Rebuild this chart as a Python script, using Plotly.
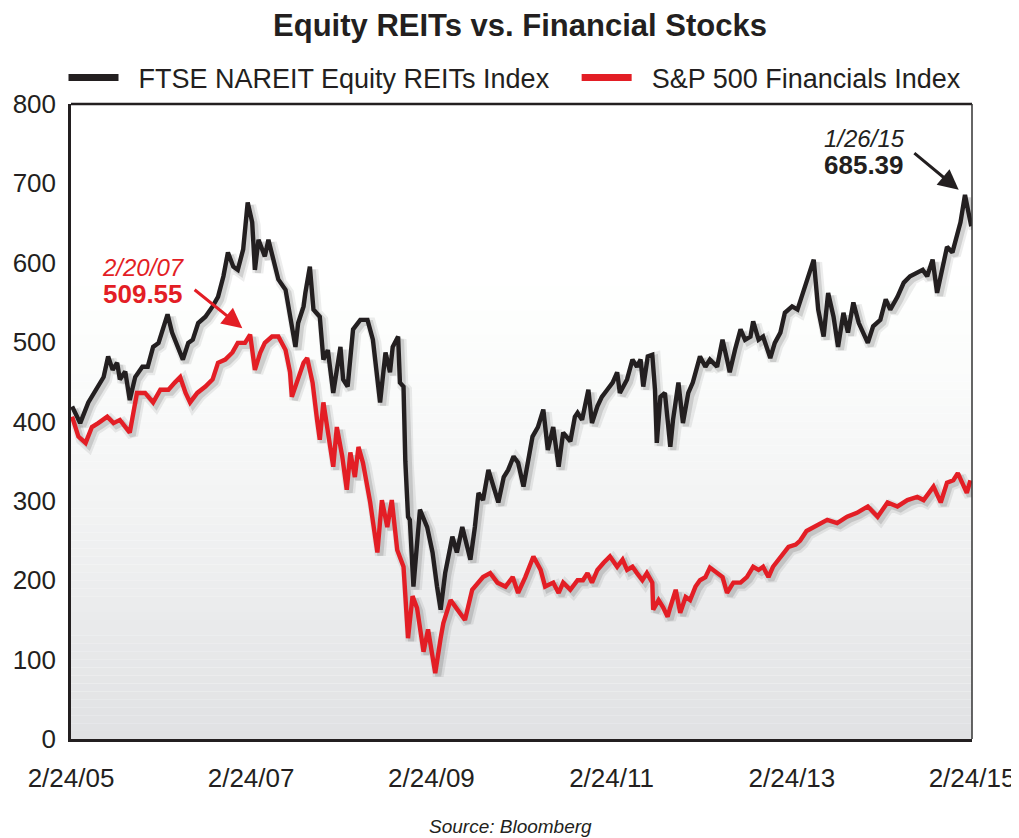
import plotly.graph_objects as go
import pandas as pd

# ---------------- data ----------------
reit_years = [2005.16, 2005.25, 2005.34, 2005.45, 2005.51, 2005.56, 2005.61, 2005.66, 2005.69, 2005.75,
              2005.80, 2005.86, 2005.94, 2006.00, 2006.06, 2006.12, 2006.17, 2006.22, 2006.27, 2006.33,
              2006.39, 2006.45, 2006.50, 2006.56, 2006.64, 2006.72, 2006.78, 2006.84, 2006.89, 2006.95,
              2007.00, 2007.06, 2007.11, 2007.16, 2007.19, 2007.23, 2007.30, 2007.34, 2007.39, 2007.45,
              2007.53, 2007.60, 2007.64, 2007.67, 2007.73, 2007.75, 2007.80, 2007.84, 2007.91, 2007.95,
              2008.00, 2008.06, 2008.14, 2008.17, 2008.22, 2008.28, 2008.36, 2008.44, 2008.50, 2008.58,
              2008.64, 2008.69, 2008.72, 2008.78, 2008.80, 2008.84, 2008.86, 2008.89, 2008.91, 2008.95,
              2009.02, 2009.10, 2009.16, 2009.21, 2009.25, 2009.30, 2009.38, 2009.43, 2009.49, 2009.58,
              2009.63, 2009.67, 2009.72, 2009.78, 2009.83, 2009.89, 2009.95, 2010.00, 2010.06, 2010.11,
              2010.17, 2010.21, 2010.27, 2010.33, 2010.39, 2010.44, 2010.50, 2010.56, 2010.61, 2010.69,
              2010.74, 2010.77, 2010.82, 2010.89, 2010.93, 2010.99, 2011.04, 2011.10, 2011.16, 2011.21,
              2011.24, 2011.32, 2011.38, 2011.43, 2011.47, 2011.50, 2011.55, 2011.60, 2011.63, 2011.65,
              2011.69, 2011.74, 2011.80, 2011.83, 2011.89, 2011.94, 2012.00, 2012.05, 2012.13, 2012.19,
              2012.24, 2012.32, 2012.38, 2012.43, 2012.46, 2012.52, 2012.58, 2012.63, 2012.69, 2012.72,
              2012.78, 2012.83, 2012.91, 2012.96, 2013.02, 2013.07, 2013.15, 2013.21, 2013.28, 2013.33,
              2013.39, 2013.44, 2013.50, 2013.55, 2013.61, 2013.66, 2013.72, 2013.77, 2013.83, 2013.89,
              2013.99, 2014.05, 2014.13, 2014.19, 2014.24, 2014.32, 2014.39, 2014.46, 2014.54, 2014.60,
              2014.65, 2014.71, 2014.76, 2014.82, 2014.87, 2014.93, 2014.98, 2015.02, 2015.07, 2015.11,
              2015.14]
reit_values = [419, 398, 424, 444, 456, 482, 465, 474, 453, 463,
               427, 456, 469, 469, 494, 499, 516, 535, 512, 494,
               478, 499, 503, 524, 532, 545, 557, 583, 613, 595,
               591, 617, 676, 651, 591, 629, 608, 629, 608, 579,
               566, 516, 494, 524, 545, 562, 595, 541, 532, 478,
               490, 436, 494, 453, 444, 516, 528, 528, 503, 424,
               487, 462, 494, 507, 449, 444, 350, 280, 276, 192,
               289, 267, 235, 192, 163, 209, 255, 235, 267, 226,
               267, 310, 301, 339, 318, 298, 330, 339, 356, 348,
               318, 343, 381, 393, 415, 364, 393, 343, 386, 375,
               406, 411, 402, 440, 398, 419, 431, 440, 449, 462,
               436, 453, 478, 469, 478, 444, 482, 484, 440, 373,
               431, 436, 368, 402, 449, 398, 436, 449, 482, 469,
               478, 469, 503, 478, 462, 491, 516, 503, 507, 526,
               503, 507, 480, 499, 512, 537, 545, 541, 566, 583,
               604, 541, 507, 562, 532, 494, 537, 512, 550, 524,
               499, 520, 528, 554, 541, 557, 575, 583, 588, 591,
               583, 604, 562, 591, 620, 613, 633, 651, 685.39, 663,
               646]

fin_years = [2005.16, 2005.23, 2005.31, 2005.38, 2005.45, 2005.55, 2005.62, 2005.69, 2005.80, 2005.88,
             2005.97, 2006.06, 2006.14, 2006.23, 2006.30, 2006.36, 2006.42, 2006.47, 2006.55, 2006.64,
             2006.72, 2006.78, 2006.86, 2006.94, 2007.00, 2007.08, 2007.137, 2007.19, 2007.25, 2007.30,
             2007.38, 2007.45, 2007.53, 2007.58, 2007.60, 2007.67, 2007.73, 2007.77, 2007.83, 2007.88,
             2007.91, 2007.95, 2008.00, 2008.06, 2008.10, 2008.16, 2008.21, 2008.25, 2008.30, 2008.34,
             2008.39, 2008.47, 2008.55, 2008.60, 2008.66, 2008.71, 2008.77, 2008.84, 2008.89, 2008.94,
             2008.99, 2009.06, 2009.11, 2009.19, 2009.25, 2009.28, 2009.36, 2009.43, 2009.52, 2009.60,
             2009.66, 2009.72, 2009.80, 2009.88, 2009.97, 2010.05, 2010.11, 2010.19, 2010.28, 2010.36,
             2010.41, 2010.50, 2010.56, 2010.61, 2010.69, 2010.77, 2010.83, 2010.88, 2010.93, 2010.99,
             2011.06, 2011.13, 2011.21, 2011.27, 2011.32, 2011.38, 2011.43, 2011.49, 2011.54, 2011.60,
             2011.61, 2011.67, 2011.72, 2011.77, 2011.80, 2011.86, 2011.91, 2011.97, 2012.02, 2012.08,
             2012.13, 2012.19, 2012.24, 2012.32, 2012.38, 2012.43, 2012.50, 2012.58, 2012.65, 2012.72,
             2012.78, 2012.83, 2012.89, 2012.94, 2013.00, 2013.05, 2013.11, 2013.19, 2013.24, 2013.31,
             2013.39, 2013.46, 2013.54, 2013.65, 2013.76, 2013.87, 2013.99, 2014.10, 2014.21, 2014.32,
             2014.43, 2014.54, 2014.61, 2014.72, 2014.80, 2014.87, 2014.94, 2014.99, 2015.05, 2015.09,
             2015.13]
fin_values = [406, 381, 373, 393, 398, 406, 398, 402, 386, 436,
              436, 424, 440, 440, 449, 456, 436, 424, 436, 444,
              453, 474, 478, 487, 499, 499, 509.55, 465, 487, 499,
              507, 507, 490, 462, 431, 456, 474, 480, 449, 402,
              377, 424, 390, 343, 393, 356, 314, 361, 330, 368,
              348, 298, 235, 301, 267, 301, 238, 217, 127, 180,
              165, 110, 138, 83, 127, 146, 175, 165, 150, 188,
              197, 204, 209, 197, 192, 204, 184, 204, 230, 213,
              192, 197, 184, 197, 188, 200, 200, 209, 197, 213,
              222, 230, 217, 226, 213, 217, 209, 200, 209, 197,
              163, 175, 166, 154, 166, 188, 159, 179, 175, 192,
              200, 204, 216, 209, 204, 184, 197, 197, 204, 217,
              213, 217, 204, 217, 226, 235, 242, 245, 250, 262,
              267, 272, 276, 272, 280, 285, 293, 280, 298, 293,
              301, 305, 301, 318, 298, 323, 326, 335, 318, 310,
              326]

series_names = ["FTSE NAREIT Equity REITs Index", "S&P 500 Financials Index"]
tick_dates = ["2005-02-24", "2007-02-24", "2009-02-24", "2011-02-24", "2013-02-24", "2015-02-24"]
tick_labels = ["2/24/05", "2/24/07", "2/24/09", "2/24/11", "2/24/13", "2/24/15"]
y_ticks = [0, 100, 200, 300, 400, 500, 600, 700, 800]

fin_peak_date, fin_peak_label, fin_peak_value = "2007-02-20", "2/20/07", 509.55
reit_peak_date, reit_peak_label, reit_peak_value = "2015-01-26", "1/26/15", 685.39

title_text = "Equity REITs vs. Financial Stocks"
source_text = "<i>Source: Bloomberg</i>"

# ---------------- helpers ----------------
def to_dates(years):
    out = []
    for y in years:
        yr = int(y)
        start = pd.Timestamp(yr, 1, 1)
        out.append(start + pd.Timedelta(days=(y - yr) * 365.25))
    return out

BLACK = "#231f20"
RED = "#e31e25"
FONT = "Liberation Sans, Arial, sans-serif"
NB = "\u00a0"

# the page places the figure 8px from the top-left corner, so the figure is 8px smaller
W, H = 1011, 830

x_start = pd.Timestamp("2005-02-24")
x_end = pd.Timestamp("2015-02-24")
shift = pd.Timedelta(days=12)

reit_x = to_dates(reit_years)
fin_x = to_dates(fin_years)

fig = go.Figure()

# legend entries (thick swatches) live on the base axes so the base subplot exists
fig.add_trace(go.Scatter(x=[None], y=[None], mode="lines", name=NB * 2 + series_names[0] + NB * 3,
                         line=dict(color=BLACK, width=7)))
fig.add_trace(go.Scatter(x=[None], y=[None], mode="lines", name=NB * 2 + series_names[1],
                         line=dict(color=RED, width=7)))

# soft drop shadows on slightly offset overlay axes (x2/y2)
for xs, ys in [(reit_x, reit_values), (fin_x, fin_values)]:
    fig.add_trace(go.Scatter(x=xs, y=ys, mode="lines", xaxis="x2", yaxis="y2",
                             line=dict(color="rgba(0,0,0,0.07)", width=11), showlegend=False,
                             hoverinfo="skip"))
    fig.add_trace(go.Scatter(x=xs, y=ys, mode="lines", xaxis="x2", yaxis="y2",
                             line=dict(color="rgba(0,0,0,0.12)", width=6), showlegend=False,
                             hoverinfo="skip"))

# main lines on top overlay axes (x3/y3), same ranges as the base axes
fig.add_trace(go.Scatter(x=reit_x, y=reit_values, mode="lines", name=series_names[0],
                         xaxis="x3", yaxis="y3",
                         line=dict(color=BLACK, width=4.4), showlegend=False))
fig.add_trace(go.Scatter(x=fin_x, y=fin_values, mode="lines", name=series_names[1],
                         xaxis="x3", yaxis="y3",
                         line=dict(color=RED, width=4.4), showlegend=False))

# background gradient (white top -> light grey bottom)
shapes = []
n_bands = 80
for i in range(n_bands):
    t = (i + 0.5) / n_bands  # 0 top .. 1 bottom
    k = max(0.0, (t - 0.25) / 0.75)
    g = round(255 - 31 * (k ** 1.3))
    b = round(255 - 28 * (k ** 1.3))
    shapes.append(dict(type="rect", xref="paper", yref="paper",
                       x0=0, x1=1, y0=1 - (i + 1) / n_bands, y1=1 - i / n_bands,
                       fillcolor=f"rgb({g},{g+1},{b})", line=dict(width=0), layer="below"))
# top and right frame lines
shapes.append(dict(type="line", xref="paper", yref="paper", x0=0, x1=1, y0=1, y1=1,
                   line=dict(color=BLACK, width=2.5)))
shapes.append(dict(type="line", xref="paper", yref="paper", x0=1, x1=1, y0=0, y1=1,
                   line=dict(color="#333333", width=1.5)))

annotations = [
    # red arrow + labels
    dict(x=fin_peak_date, y=fin_peak_value, xref="x3", yref="y3", text="", showarrow=True,
         ax=-57, ay=-46, arrowhead=2, arrowsize=1.35, arrowwidth=3, arrowcolor=RED, standoff=10),
    dict(x=fin_peak_date, y=fin_peak_value, xref="x3", yref="y3", text=f"<i>{fin_peak_label}</i>",
         showarrow=False, xshift=-107, yshift=67, font=dict(family=FONT, size=24, color=RED)),
    dict(x=fin_peak_date, y=fin_peak_value, xref="x3", yref="y3", text=f"<b>{fin_peak_value:.2f}</b>",
         showarrow=False, xshift=-107, yshift=41, font=dict(family=FONT, size=26, color=RED)),
    # black arrow + labels
    dict(x=reit_peak_date, y=reit_peak_value, xref="x3", yref="y3", text="", showarrow=True,
         ax=-52, ay=-43, arrowhead=2, arrowsize=1.35, arrowwidth=3, arrowcolor=BLACK, standoff=8),
    dict(x=reit_peak_date, y=reit_peak_value, xref="x3", yref="y3", text=f"<i>{reit_peak_label}</i>",
         showarrow=False, xshift=-100, yshift=56, font=dict(family=FONT, size=24, color=BLACK)),
    dict(x=reit_peak_date, y=reit_peak_value, xref="x3", yref="y3", text=f"<b>{reit_peak_value:.2f}</b>",
         showarrow=False, xshift=-101, yshift=30, font=dict(family=FONT, size=26, color=BLACK)),
    # source
    dict(x=(510 - 71) / 901, y=-(826 - 739) / 635, xref="paper", yref="paper", yanchor="middle",
         text=source_text, showarrow=False, font=dict(family=FONT, size=19, color=BLACK)),
]

fig.update_layout(
    width=W, height=H,
    margin=dict(l=63, r=47, t=96, b=99, autoexpand=False),
    paper_bgcolor="white", plot_bgcolor="white",
    title=dict(text=f"<b>{title_text}</b>", x=(520 - 8) / W, xanchor="center", xref="container",
               y=1 - (25 - 8) / H, yref="container", yanchor="middle",
               font=dict(family=FONT, size=31, color=BLACK)),
    legend=dict(orientation="h", x=(515 - 8) / W, xanchor="center", xref="container",
                y=1 - (78 - 8) / H, yref="container", yanchor="middle",
                font=dict(family=FONT, size=27, color=BLACK), bgcolor="rgba(0,0,0,0)",
                itemwidth=50, tracegroupgap=0),
    xaxis=dict(type="date", range=[x_start, x_end], tickvals=tick_dates, ticktext=tick_labels,
               showgrid=False, zeroline=False, showline=True, linecolor=BLACK, linewidth=3,
               ticks="", ticklabelstandoff=14, automargin=False,
               tickfont=dict(family=FONT, size=26, color=BLACK)),
    yaxis=dict(range=[0, 800], tickvals=y_ticks, showgrid=False, zeroline=False,
               showline=True, linecolor=BLACK, linewidth=2.5, ticks="", ticklabelstandoff=7,
               automargin=False, tickfont=dict(family=FONT, size=26, color=BLACK)),
    xaxis2=dict(type="date", overlaying="x", range=[x_start - shift, x_end - shift], visible=False),
    yaxis2=dict(overlaying="y", range=[3.8, 803.8], visible=False),
    xaxis3=dict(type="date", overlaying="x", range=[x_start, x_end], visible=False),
    yaxis3=dict(overlaying="y", range=[0, 800], visible=False),
    shapes=shapes,
    annotations=annotations,
    showlegend=True,
)

fig.write_html("out.html")
